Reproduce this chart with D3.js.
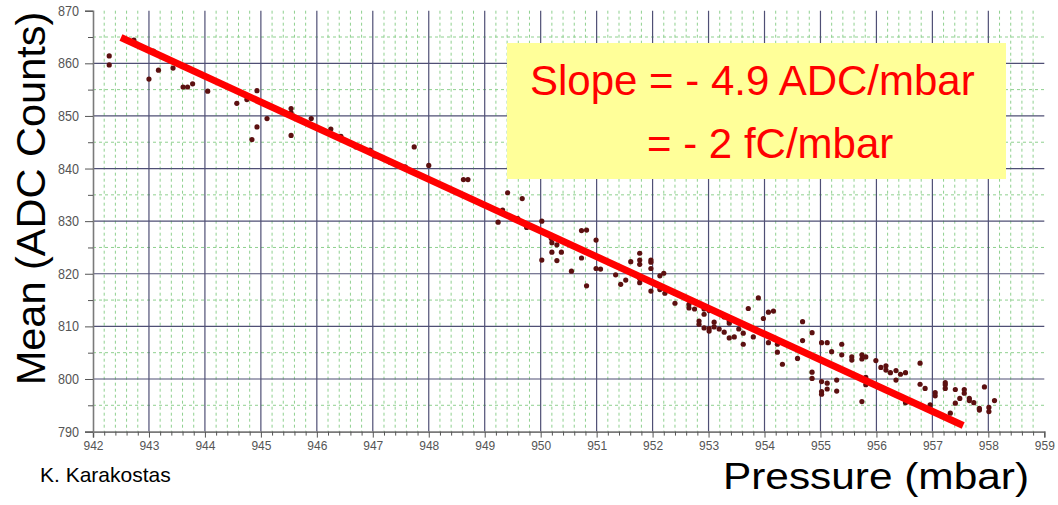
<!DOCTYPE html>
<html>
<head>
<meta charset="utf-8">
<script src="https://cdn.jsdelivr.net/npm/d3@7"></script>
<style>
  html, body { margin: 0; padding: 0; background: #ffffff; }
  svg { display: block; }
  text { font-family: "Liberation Sans", Arial, Helvetica, sans-serif; }
</style>
</head>
<body>
<svg id="chart" width="1058" height="505"></svg>
<script>
// Pressure scan: mean ADC counts against atmospheric pressure
const pressure = [
  942.29, 942.29, 942.73, 943.08, 943.00, 943.17, 943.43, 943.61, 943.69, 943.78,
  944.05, 944.57, 944.75, 944.93, 944.93, 944.84, 945.11, 945.54, 945.54, 945.54,
  945.90, 946.25, 946.43,
  946.70, 946.95, 947.04, 947.31, 947.58, 947.74, 948.00, 948.62, 948.70, 949.41,
  949.67, 949.32, 949.24, 949.59, 949.75, 950.02, 950.02, 950.20, 950.29, 950.20,
  950.37, 950.29, 950.73, 950.82, 950.73, 950.55, 950.82, 950.19,
  950.99, 950.99, 951.07, 951.34, 951.43, 951.52, 951.61, 951.77, 951.77, 951.77,
  951.77, 951.77, 951.97, 951.97, 951.97, 951.97, 952.13, 952.20, 952.13, 952.22,
  952.40, 952.40, 952.65, 952.65, 952.75, 952.92, 952.92, 953.01, 952.83, 952.83,
  952.92, 953.01, 953.01, 953.10, 953.10, 953.19, 953.19, 953.28, 953.28, 953.37,
  953.37, 953.37, 953.46, 953.54, 953.62, 953.62, 953.71, 953.80, 953.89, 953.98,
  954.07, 954.16, 954.07, 954.23, 954.23,
  954.32, 954.68, 954.68, 954.85, 954.59, 954.85, 954.85, 955.02, 955.12, 955.20,
  955.38, 955.38, 955.02, 955.02, 955.02, 955.12, 955.12, 955.29, 955.29, 955.56,
  955.56, 955.74, 955.74, 955.81, 955.74, 955.81, 955.81, 955.99, 956.08, 956.17,
  956.17, 956.25, 956.35, 956.43, 956.52, 956.35, 956.35, 956.52, 956.78, 956.78,
  956.87, 956.96, 957.05, 957.05, 957.23, 957.23, 957.23, 957.32, 957.41, 957.41,
  957.49, 957.57, 957.57, 957.66, 957.66, 957.74, 957.84, 957.84, 957.93, 958.01,
  958.01, 958.11
];
const meanAdc = [
  861.4, 859.7, 864.4, 862.3, 857.0, 858.7, 859.1, 855.5, 855.5, 856.1,
  854.7, 852.4, 853.1, 854.8, 847.9, 845.5, 849.5, 851.4, 850.6, 846.3,
  849.5, 847.5, 846.1,
  844.1, 843.5, 842.4, 841.2, 840.3, 844.1, 840.6, 837.9, 837.9, 835.4,
  834.3, 832.1, 829.8, 830.5, 828.8, 830.0, 822.6, 825.9, 825.5, 824.1,
  824.1, 822.5, 828.2, 828.3, 823.0, 820.5, 817.7, 826.7,
  826.4, 821.0, 820.9, 819.8, 818.0, 818.8, 822.3, 823.9, 822.6, 821.8,
  819.1, 818.3, 822.6, 822.2, 821.0, 816.7, 819.6, 820.1, 817.0, 816.3,
  816.3, 814.4, 814.2, 813.5, 813.3, 813.3, 812.3, 813.0, 811.0, 810.4,
  809.7, 809.6, 809.1, 810.8, 809.9, 812.5, 809.5, 811.8, 808.9, 811.0,
  810.6, 807.8, 808.0, 809.5, 808.7, 806.6, 813.4, 808.0, 815.4, 811.5,
  812.7, 812.9, 806.9, 806.6, 805.1,
  802.8, 810.9, 807.3, 808.8, 803.9, 801.3, 800.1, 806.9, 806.9, 805.2,
  806.6, 804.6, 799.5, 797.6, 797.1, 799.2, 798.1, 799.8, 797.7, 804.2,
  803.6, 804.6, 803.8, 804.2, 795.7, 800.3, 798.9, 803.5, 802.2, 802.5,
  801.7, 801.2, 801.6, 800.9, 801.2, 799.8, 797.0, 795.5, 803.0, 799.0,
  798.2, 795.1, 797.4, 796.8, 799.3, 798.9, 798.2, 793.5, 798.0, 795.4,
  796.3, 798.0, 797.3, 796.3, 795.9, 795.5, 794.4, 794.1, 798.5, 794.6,
  793.8, 795.9
];

// Tick values
const xMajorTicks = d3.range(942, 960, 1);
const yMajorTicks = d3.range(790, 880, 10);

// Straight-line fit: slope in ADC/mbar, anchored at the centre of the pressure span
const fitSlope = -4.9;
const fitCentre = [950.03, 828.0];
const fitRange = [942.5, 957.55];

// Annotation text
const noteLines = ["Slope = - 4.9 ADC/mbar", "= - 2 fC/mbar"];
const xTitle = "Pressure (mbar)";
const yTitle = "Mean (ADC Counts)";
const credit = "K. Karakostas";

const svg = d3.select("#chart");

const x = d3.scaleLinear().domain([942, 959]).range([93, 1044.3]);
const y = d3.scaleLinear().domain([790, 870]).range([431.6, 10.7]);

const grid = svg.append("g");

// minor grid: every 0.2 mbar and every 5 counts
const xMinor = d3.range(942.2, 959, 0.2).filter(v => Math.abs(v - Math.round(v)) > 0.05);
grid.selectAll("line.vminor").data(xMinor).join("line")
  .attr("x1", d => x(d)).attr("x2", d => x(d))
  .attr("y1", y(870)).attr("y2", y(790))
  .attr("stroke", "#8fd08f").attr("stroke-width", 1)
  .attr("stroke-dasharray", "3,3");

const yMinor = d3.range(795, 870, 10);
grid.selectAll("line.hminor").data(yMinor).join("line")
  .attr("x1", x(942)).attr("x2", x(959))
  .attr("y1", d => y(d)).attr("y2", d => y(d))
  .attr("stroke", "#8fd08f").attr("stroke-width", 1)
  .attr("stroke-dasharray", "3,3");

// major grid
grid.selectAll("line.vmajor").data(xMajorTicks.filter(v => v > 942 && v < 959)).join("line")
  .attr("x1", d => x(d)).attr("x2", d => x(d))
  .attr("y1", y(870)).attr("y2", y(790))
  .attr("stroke", "#4f4f75").attr("stroke-width", 1.2);

grid.selectAll("line.hmajor").data(yMajorTicks.filter(v => v > 790 && v < 870)).join("line")
  .attr("x1", x(942)).attr("x2", x(959))
  .attr("y1", d => y(d)).attr("y2", d => y(d))
  .attr("stroke", "#4f4f75").attr("stroke-width", 1.2);

// axes
const axisColor = "#7a7a7a";
const xAxis = d3.axisBottom(x).tickValues(xMajorTicks).tickSize(6).tickPadding(3)
  .tickFormat(d3.format("d"));
const gx = svg.append("g").attr("transform", `translate(0,${y(790)})`).call(xAxis);
gx.select(".domain").attr("stroke", axisColor).attr("stroke-width", 1.6);
gx.selectAll(".tick line").attr("stroke", "#555");
gx.selectAll(".tick text")
  .attr("fill", "#555").attr("font-size", 13.5)
  .attr("font-family", "Liberation Sans, Arial, sans-serif")
  .attr("textLength", 20).attr("lengthAdjust", "spacingAndGlyphs");

const xAxisMinor = d3.axisBottom(x).tickValues(xMinor).tickSize(4).tickFormat("");
const gxm = svg.append("g").attr("transform", `translate(0,${y(790)})`).call(xAxisMinor);
gxm.select(".domain").remove();
gxm.selectAll(".tick line").attr("stroke", "#555");

const yAxis = d3.axisLeft(y).tickValues(yMajorTicks).tickSize(8).tickPadding(6)
  .tickFormat(d3.format("d"));
const gy = svg.append("g").attr("transform", `translate(${x(942)},0)`).call(yAxis);
gy.select(".domain").attr("stroke", axisColor).attr("stroke-width", 1.6);
gy.selectAll(".tick line").attr("stroke", "#555");
gy.selectAll(".tick text")
  .attr("fill", "#555").attr("font-size", 14)
  .attr("font-family", "Liberation Sans, Arial, sans-serif")
  .attr("textLength", 21).attr("lengthAdjust", "spacingAndGlyphs");

const yAxisMinor = d3.axisLeft(y).tickValues(yMinor).tickSize(5).tickFormat("");
const gym = svg.append("g").attr("transform", `translate(${x(942)},0)`).call(yAxisMinor);
gym.select(".domain").remove();
gym.selectAll(".tick line").attr("stroke", "#555");

// data points
svg.append("g").selectAll("circle").data(pressure.map((p, i) => [p, meanAdc[i]])).join("circle")
  .attr("cx", d => x(d[0])).attr("cy", d => y(d[1])).attr("r", 2.6)
  .attr("fill", "#5c1010");

// fit line
const fitAt = p => fitCentre[1] + fitSlope * (p - fitCentre[0]);
svg.append("line")
  .attr("x1", x(fitRange[0])).attr("y1", y(fitAt(fitRange[0])))
  .attr("x2", x(fitRange[1])).attr("y2", y(fitAt(fitRange[1])))
  .attr("stroke", "#ff0000").attr("stroke-width", 7);

// slope annotation
svg.append("rect")
  .attr("x", 507).attr("y", 43).attr("width", 499).attr("height", 136)
  .attr("fill", "#ffff99");
svg.append("text").attr("x", 530).attr("y", 95)
  .attr("font-size", 42).attr("fill", "#ff0000").text(noteLines[0]);
svg.append("text").attr("x", 647).attr("y", 158)
  .attr("font-size", 42).attr("fill", "#ff0000").text(noteLines[1]);

// axis titles
svg.append("text")
  .attr("transform", "translate(45,198.5) rotate(-90)")
  .attr("text-anchor", "middle").attr("font-size", 41.5).attr("fill", "#000")
  .text(yTitle);
svg.append("text").attr("x", 723).attr("y", 489)
  .attr("font-size", 36).attr("fill", "#000")
  .attr("textLength", 306).attr("lengthAdjust", "spacingAndGlyphs")
  .text(xTitle);
svg.append("text").attr("x", 40).attr("y", 481.5)
  .attr("font-size", 21).attr("fill", "#000")
  .text(credit);
</script>
</body>
</html>
